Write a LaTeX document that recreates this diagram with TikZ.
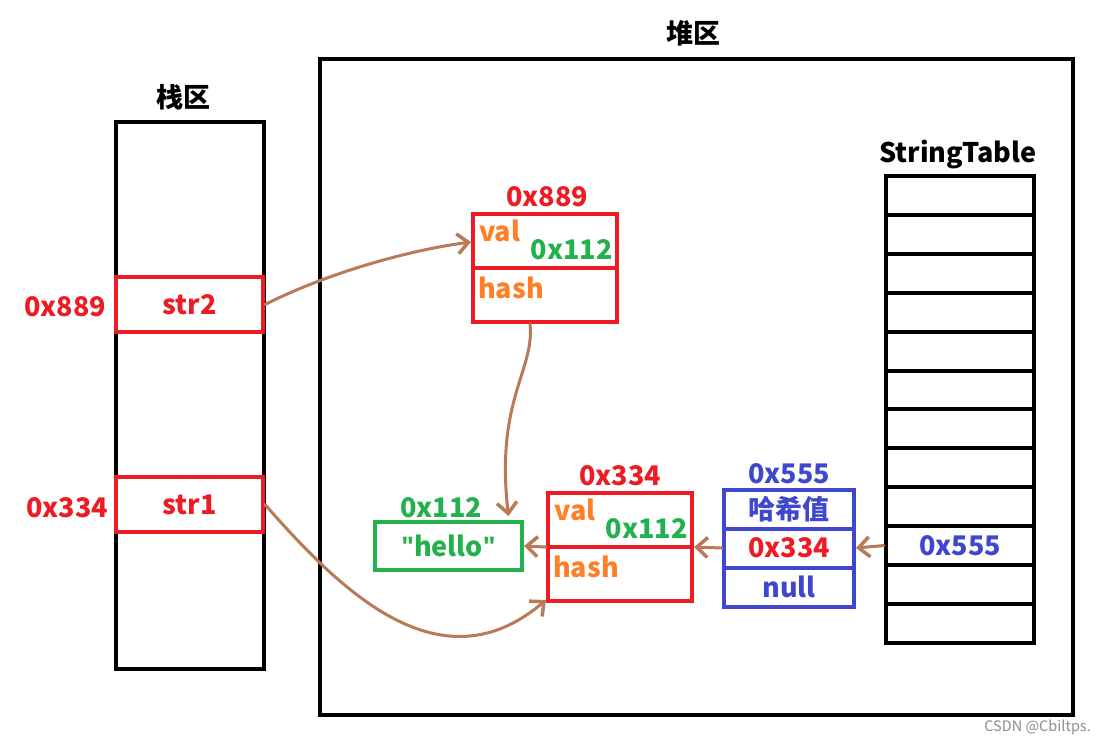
\documentclass[tikz,border=0pt]{standalone}
\usepackage{fontspec}
\setmainfont{Noto Sans CJK SC}
\newfontfamily\quotefont{Open Sans}
\usetikzlibrary{positioning, arrows.meta}

\definecolor{pRed}{RGB}{237,28,36}
\definecolor{pGreen}{RGB}{34,177,76}
\definecolor{pOrange}{RGB}{255,127,39}
\definecolor{pBlue}{RGB}{63,72,204}
\definecolor{pBrown}{RGB}{185,122,87}

\newcommand{\dq}{{\quotefont\bfseries\symbol{34}}}

\tikzset{
  memblock/.style={draw, line width=4pt, inner sep=0pt},
  cellred/.style={memblock, draw=pRed, text=pRed},
  cellblue/.style={memblock, draw=pBlue, text=pBlue, minimum width=130pt, minimum height=39pt},
  tablecell/.style={memblock, draw=black, minimum width=148pt, minimum height=38.9pt},
  link/.style={draw=pBrown, line width=3pt, line cap=round, -{Straight Barb[length=11pt,width=20pt,line width=3.5pt]}},
  lbl/.style={inner sep=0pt},
}

\begin{document}
\begin{tikzpicture}[x=1pt,y=1pt,yscale=-1,font=\bfseries\fontsize{27}{30}\selectfont]
\useasboundingbox (0,0) rectangle (1104,747);

%stack area
\node[memblock, minimum width=148pt, minimum height=547pt] (stack) at (190,395.5) {};
\node[lbl] (stacktitle) at (183,97) {栈区};
\node[cellred, minimum width=147pt, minimum height=55pt] (str2) at (189.5,304.5) {str2};
\node[cellred, minimum width=147pt, minimum height=55pt] (str1) at (189.5,504.5) {str1};
\node[lbl, text=pRed] (addr889) at (65,307) {0x889};
\node[lbl, text=pRed] (addr334) at (67,508) {0x334};

%heap area
\node[memblock, minimum width=753pt, minimum height=656pt] (heap) at (696.5,387) {};
\node[lbl] (heaptitle) at (693,33) {堆区};

%String object 0x889
\node[cellred, minimum width=144pt, minimum height=108pt] (obj889) at (545,268) {};
\draw[pRed, line width=4pt] (obj889.west) -- (obj889.east);
\node[lbl, text=pRed] at (547,197) {0x889};
\node[lbl, text=pOrange, anchor=west] at (479,231) {val};
\node[lbl, text=pGreen, anchor=east] at (613,250) {0x112};
\node[lbl, text=pOrange, anchor=west] at (478,288) {hash};

%String object 0x334
\node[cellred, minimum width=144pt, minimum height=108pt] (obj334) at (620,547) {};
\draw[pRed, line width=4pt] (obj334.west) -- (obj334.east);
\node[lbl, text=pRed] at (620,476) {0x334};
\node[lbl, text=pOrange, anchor=west] at (554,510) {val};
\node[lbl, text=pGreen, anchor=east] at (688,529) {0x112};
\node[lbl, text=pOrange, anchor=west] at (553,567) {hash};

%char array
\node[memblock, draw=pGreen, text=pGreen, minimum width=147pt, minimum height=48pt] (hello) at (448.5,546) {\dq hello\dq};
\node[lbl, text=pGreen] at (441,508) {0x112};

%hash entry 0x555
\node[cellblue] (hashval) at (789,509) {哈希值};
\node[cellblue, text=pRed] (next) at (789,548) {0x334};
\node[cellblue] (nullval) at (789,587) {null};
\node[lbl, text=pBlue] at (789,474) {0x555};

%StringTable
\node[lbl] (tabletitle) at (958,155) {StringTable};
\foreach \i in {0,...,11}
  \node[tablecell] (t\i) at (960,195.45+38.9*\i) {};
\node[text=pBlue] at (t9) {0x555};

%links (yscale=-1, so a negative yshift moves up)
\draw[link] (str2.east) .. controls (330,272) and (410,250) .. ([yshift=-26pt]obj889.west);
\draw[link] ([xshift=-15pt]obj889.south) .. controls (535,370) and (495,400) .. ([xshift=60pt,yshift=-4pt]hello.north);
\draw[link] (obj334.west) -- (hello.east);
\draw[link] (str1.east) .. controls (340,590) and (440,690) .. ([yshift=-3pt]obj334.south west);
\draw[link] (next.west) -- (obj334.east);
\draw[link] (t9.west) -- (next.east);

% watermark
\node[lbl, text=black!45, font=\fontsize{14.5}{16}\selectfont, anchor=east] at (1091,727) {CSDN @Cbiltps.};
\end{tikzpicture}
\end{document}
